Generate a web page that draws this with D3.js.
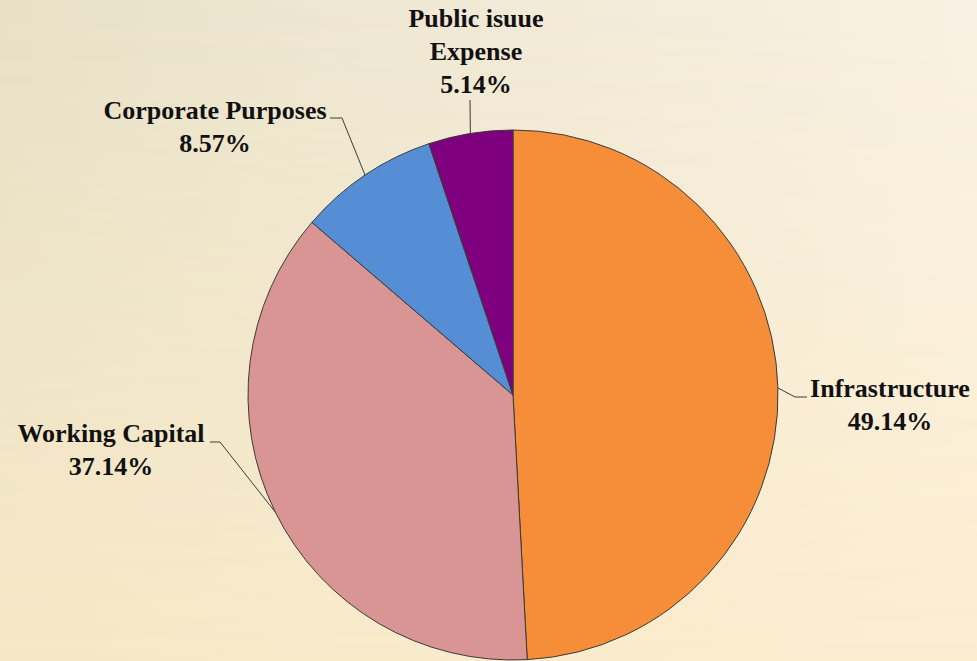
<!doctype html>
<html>
  <head>
    <script src="https://cdn.jsdelivr.net/npm/d3@7/dist/d3.min.js"></script>
    <style>
      body, html {
        margin: 0;
        background: #f4ead4;
      }
      svg {
        display: block;
      }
      path.slice {
        stroke: #3a3a3a;
        stroke-width: 1px;
      }
      polyline.leader {
        fill: none;
        stroke: #3a3a3a;
        stroke-width: 1px;
      }
    </style>
  </head>
  <body>
    <svg width="977" height="661"></svg>
    <script>
      // data
      var categories = ["Infrastructure", "Working Capital", "Corporate Purposes", "Public isuue Expense"];
      var shares = [49.14, 37.14, 8.57, 5.14];
      var pctLabels = ["49.14%", "37.14%", "8.57%", "5.14%"];
      var colors = ["#f68e39", "#d99594", "#558ed5", "#7f007f"];

      // label layout (relative to pie centre)
      var labelLayout = {
        "Infrastructure":       {lines: ["Infrastructure"], x: 377, y: 2, elbow: [282, 2], end: [294, 2]},
        "Working Capital":      {lines: ["Working Capital"], x: -402, y: 47, elbow: [-293, 47], end: [-303, 47]},
        "Corporate Purposes":   {lines: ["Corporate Purposes"], x: -298, y: -276, elbow: [-171, -277], end: [-183, -277]},
        "Public isuue Expense": {lines: ["Public isuue", "Expense"], x: -37, y: -368, elbow: [-43, -295], end: null}
      };

      var W = 977, H = 661, cx = 513, cy = 395, R = 265, lineH = 33;

      var svg = d3.select("svg");
      var defs = svg.append("defs");

      var gTop = defs.append("linearGradient").attr("id", "gTop");
      gTop.append("stop").attr("offset", "0%").attr("stop-color", "#e8e1c8");
      gTop.append("stop").attr("offset", "100%").attr("stop-color", "#f9f2e4");
      var gBot = defs.append("linearGradient").attr("id", "gBot");
      gBot.append("stop").attr("offset", "0%").attr("stop-color", "#f6e8c6");
      gBot.append("stop").attr("offset", "100%").attr("stop-color", "#fcedcf");
      var gV = defs.append("linearGradient").attr("id", "gV")
        .attr("x1", 0).attr("y1", 0).attr("x2", 0).attr("y2", 1);
      gV.append("stop").attr("offset", "0%").attr("stop-color", "#fff").attr("stop-opacity", 0);
      gV.append("stop").attr("offset", "100%").attr("stop-color", "#fff").attr("stop-opacity", 1);
      defs.append("mask").attr("id", "mV")
        .append("rect").attr("width", W).attr("height", H).attr("fill", "url(#gV)");

      svg.append("rect").attr("width", W).attr("height", H).attr("fill", "url(#gTop)");
      svg.append("rect").attr("width", W).attr("height", H).attr("fill", "url(#gBot)").attr("mask", "url(#mV)");

      var pie = d3.pie().sort(null).value(d => d);
      var arcs = pie(shares);
      var arc = d3.arc().innerRadius(0).outerRadius(R);
      var edge = d3.arc().innerRadius(R).outerRadius(R);

      var g = svg.append("g").attr("transform", "translate(" + cx + "," + cy + ")");

      g.selectAll("path.slice")
        .data(arcs)
        .enter().append("path")
        .attr("class", "slice")
        .attr("d", arc)
        .attr("fill", (d, i) => colors[i]);

      arcs.forEach(function(d, i) {
        var lay = labelLayout[categories[i]];
        var p = edge.centroid(d);
        var pts = [p, lay.elbow];
        if (lay.end) pts.push(lay.end);
        g.append("polyline")
          .attr("class", "leader")
          .attr("points", pts.map(q => q.join(",")).join(" "));

        var t = g.append("text")
          .attr("text-anchor", "middle")
          .style("font-family", "'Liberation Serif'")
          .style("font-weight", "bold")
          .style("font-size", "26px")
          .style("fill", "#111");
        lay.lines.concat([pctLabels[i]]).forEach(function(s, k) {
          t.append("tspan")
            .attr("x", lay.x)
            .attr("y", lay.y + k * lineH)
            .text(s);
        });
      });
    </script>
  </body>
</html>
